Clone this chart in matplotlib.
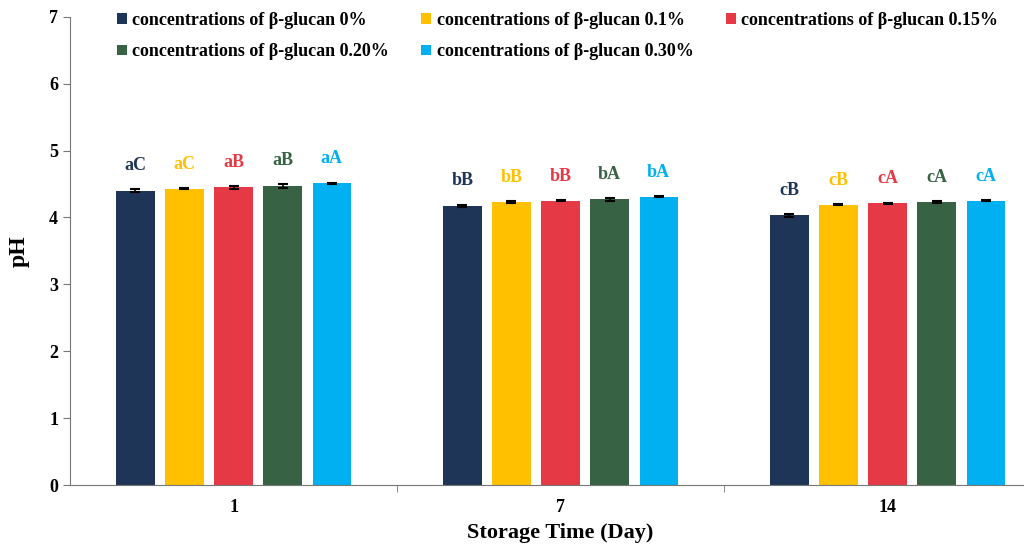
import numpy as np
import matplotlib.pyplot as plt

plt.rcParams['font.family'] = ['Liberation Serif', 'DejaVu Serif']
plt.rcParams['font.weight'] = 'bold'

days = ['1', '7', '14']
series = ['concentrations of β-glucan 0%', 'concentrations of β-glucan 0.1%',
          'concentrations of β-glucan 0.15%', 'concentrations of β-glucan 0.20%',
          'concentrations of β-glucan 0.30%']
ph_0 = [4.40, 4.17, 4.03]
ph_01 = [4.43, 4.23, 4.19]
ph_015 = [4.45, 4.25, 4.21]
ph_020 = [4.47, 4.27, 4.23]
ph_030 = [4.51, 4.31, 4.25]
err_0 = [0.02, 0.02, 0.02]
err_01 = [0.01, 0.01, 0.01]
err_015 = [0.02, 0.01, 0.01]
err_020 = [0.03, 0.02, 0.01]
err_030 = [0.01, 0.01, 0.01]
lab_0 = ['aC', 'bB', 'cB']
lab_01 = ['aC', 'bB', 'cB']
lab_015 = ['aB', 'bB', 'cA']
lab_020 = ['aB', 'bA', 'cA']
lab_030 = ['aA', 'bA', 'cA']
colors = ['#1F3557', '#FFC000', '#E63946', '#376344', '#00B0F0']

values = [ph_0, ph_01, ph_015, ph_020, ph_030]
errors = [err_0, err_01, err_015, err_020, err_030]
letters = [lab_0, lab_01, lab_015, lab_020, lab_030]

fig = plt.figure(figsize=(10.24, 5.47), dpi=100)
ax = fig.add_axes([0.0684, 0.1133, 0.958, 0.856])

x = np.arange(len(days))
step = 0.15
width = 0.117
handles = []
for i in range(5):
    pos = x + (i - 2) * step
    b = ax.bar(pos, values[i], width, color=colors[i], label=series[i],
               yerr=errors[i], capsize=3.5,
               error_kw=dict(ecolor='black', elinewidth=1.2, capthick=1.5))
    handles.append(b)
    for px, v, e, t in zip(pos, values[i], errors[i], letters[i]):
        ax.annotate(t, (px, v + e), xytext=(0, 11), textcoords='offset points',
                    ha='center', va='bottom', color=colors[i], fontsize=13, fontweight='bold')

ax.set_xlim(-0.5, 2.5)
ax.set_ylim(0, 7)
ax.set_yticks(range(8))
ax.set_xticks(x)
ax.set_xticklabels(days)
ax.set_xticks([0.5, 1.5], minor=True)
ax.tick_params(axis='x', which='major', length=0, pad=10, labelsize=13)
ax.tick_params(axis='x', which='minor', length=5, direction='out', color='#777777')
ax.tick_params(axis='y', length=5, direction='out', labelsize=13, color='#777777')
for s in ['top', 'right']:
    ax.spines[s].set_visible(False)
for s in ['left', 'bottom']:
    ax.spines[s].set_color('#777777')

ax.set_xlabel('Storage Time (Day)', fontsize=16, fontweight='bold', labelpad=5)
ax.set_ylabel('pH', fontsize=17, fontweight='bold', labelpad=14)

order = [0, 3, 1, 4, 2]
ax.legend([handles[k] for k in order], [series[k] for k in order], ncol=3,
          loc='upper left', bbox_to_anchor=(0.031, 1.045), frameon=False,
          fontsize=13, handlelength=0.55, handleheight=0.55, handletextpad=0.3,
          columnspacing=1.8, labelspacing=0.8)

plt.savefig('out.png', dpi=100)
